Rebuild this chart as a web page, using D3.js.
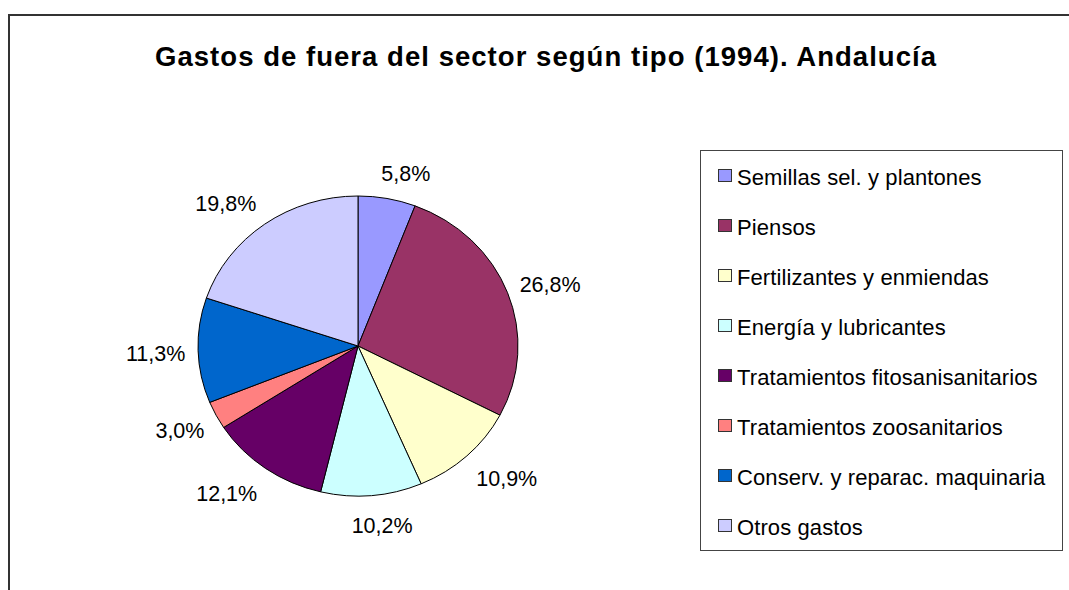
<!DOCTYPE html>
<html>
<head>
<meta charset="utf-8">
<script src="https://cdn.jsdelivr.net/npm/d3@7"></script>
<style>
    body { margin:0; background:#fff; }
    text { font-family: "Liberation Sans", Arial, sans-serif; fill:#000; }
</style>
</head>
<body>
<div id="chart"></div>
<script>
var title = "Gastos de fuera del sector según tipo (1994). Andalucía";
var categories = ["Semillas sel. y plantones", "Piensos", "Fertilizantes y enmiendas",
    "Energía y lubricantes", "Tratamientos fitosanisanitarios", "Tratamientos zoosanitarios",
    "Conserv. y reparac. maquinaria", "Otros gastos"];
var values = [5.8, 26.8, 10.9, 10.2, 12.1, 3.0, 11.3, 19.8];
var colors = ["#9999FF", "#993366", "#FFFFCC", "#CCFFFF", "#660066", "#FF8080", "#0066CC", "#CCCCFF"];

var width = 1069, height = 590;
var cx = 358, cy = 346;
var ry = 150, rx = 160;
var sx = rx / ry;

var svg = d3.select("#chart").append("svg")
    .attr("width", width).attr("height", height);

// frame (only top and left edges are visible in the shot)
svg.append("path")
    .attr("d", "M9," + height + "V15H" + width)
    .attr("fill", "none")
    .attr("stroke", "#333")
    .attr("stroke-width", 2);

svg.append("text")
    .attr("x", 545.5).attr("y", 66)
    .attr("text-anchor", "middle")
    .attr("font-size", 27.5)
    .attr("font-weight", "bold")
    .attr("textLength", 781)
    .attr("lengthAdjust", "spacing")
    .text(title);

var fmt = function(v){
    return v.toFixed(1).replace(".", ",") + "%";
};

var arcs = d3.pie().sort(null).value(function(d){ return d; })(values);
var arc = d3.arc().innerRadius(0).outerRadius(ry);

var pieG = svg.append("g")
    .attr("transform", "translate(" + cx + "," + cy + ") scale(" + sx + ",1)");

pieG.selectAll("path")
    .data(arcs)
    .enter()
    .append("path")
    .attr("d", arc)
    .attr("fill", function(d, i){ return colors[i]; })
    .attr("stroke", "#000")
    .attr("stroke-width", 1)
    .attr("vector-effect", "non-scaling-stroke");

// labels outside the slices, roughly the way the spreadsheet places them
var labelFs = 21.5;
var labelG = svg.append("g");
arcs.forEach(function(d, i){
    var a = (d.startAngle + d.endAngle) / 2;
    var s = Math.sin(a), c = Math.cos(a);
    var t = labelG.append("text")
        .attr("text-anchor", "middle")
        .attr("font-size", labelFs)
        .text(fmt(values[i]));
    var hw = t.node().getComputedTextLength() / (2 * sx) + 2;
    var R = ry + 10, hh = 18;
    var lx = R * s + hw * Math.sign(s) * Math.min(1, 3.5 * Math.abs(s));
    var ly = -R * c - hh * c;
    t.attr("x", cx + lx * sx)
     .attr("y", cy + ly + 0.358 * labelFs + 2);
});

// legend
var legX = 700, legY = 150, legW = 362, legH = 400;
var legend = svg.append("g");
legend.append("rect")
    .attr("x", legX + 0.5).attr("y", legY + 0.5)
    .attr("width", legW).attr("height", legH)
    .attr("fill", "#fff")
    .attr("stroke", "#444")
    .attr("stroke-width", 1);

var rowY = d3.scalePoint().domain(categories).range([175.5, 525.5]);

var item = legend.selectAll("g.item")
    .data(categories)
    .enter()
    .append("g")
    .attr("class", "item")
    .attr("transform", function(d){ return "translate(0," + rowY(d) + ")"; });

item.append("rect")
    .attr("x", 718.5).attr("y", -6)
    .attr("width", 13).attr("height", 12)
    .attr("fill", function(d, i){ return colors[i]; })
    .attr("stroke", "#333")
    .attr("stroke-width", 1);

item.append("text")
    .attr("x", 737).attr("y", 9.5)
    .attr("font-size", 22)
    .attr("letter-spacing", 0.1)
    .text(function(d){ return d; });
</script>
</body>
</html>
